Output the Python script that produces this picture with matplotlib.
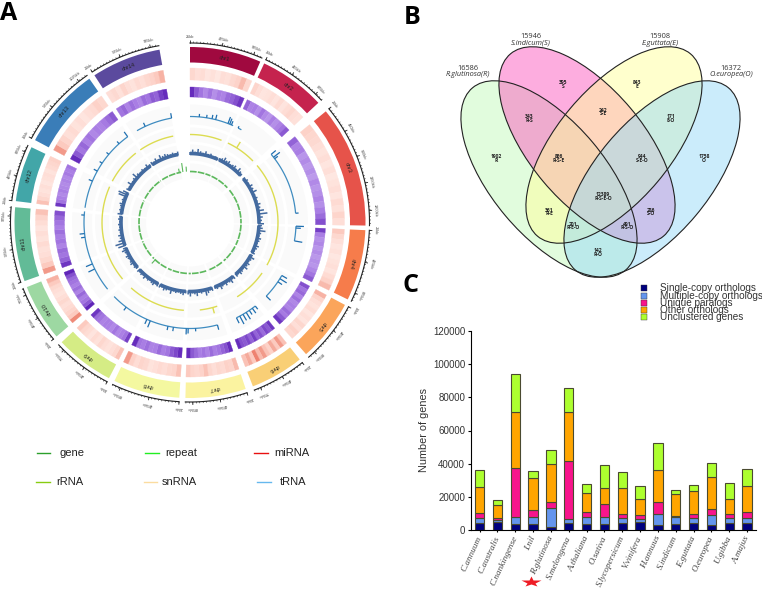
import numpy as np
import matplotlib
matplotlib.use('Agg')
import matplotlib.pyplot as plt
from matplotlib.colors import LinearSegmentedColormap
from matplotlib.markers import MarkerStyle
from matplotlib.patches import Ellipse
from matplotlib.transforms import Affine2D

W, H = 762, 591

# ---- panel A: circos data (angles are degrees clockwise from the top)
CHR_NAMES = ['chr1', 'chr2', 'chr3', 'chr4', 'chr5', 'chr6', 'chr7', 'chr8', 'chr9',
             'chr10', 'chr11', 'chr12', 'chr13', 'chr14']
CHR_START = [0, 25, 50.7, 92.5, 118, 141.3, 161.5, 183.5, 207.5, 229.5, 250.5, 277, 298, 327]
CHR_END = [23.6, 47, 91, 116, 138.6, 159, 181.5, 205.5, 227, 248.4, 275, 295.4, 325, 350]
CHR_COLORS = ['#a0093f', '#c5234e', '#e6534a', '#f67c4b', '#fba55b', '#f9cf76', '#fbf3a0',
              '#f4f8a0', '#d5ec85', '#9dd8a2', '#62bb97', '#42a6a8', '#3a7db8', '#5b4a9e']
TICK_LABELS = [['25kb', '475kb', '925kb'], ['25kb', '465kb', '875kb'], ['25kb', '450kb', '900kb', '1350kb', '1800kb'],
               ['25kb', '425kb', '825kb'], ['25kb', '425kb', '825kb'], ['25kb', '425kb', '775kb'],
               ['25kb', '425kb', '825kb'], ['25kb', '425kb', '825kb'], ['25kb', '425kb', '775kb'],
               ['25kb', '425kb', '775kb'], ['25kb', '525kb', '975kb'], ['25kb', '425kb', '825kb'],
               ['25kb', '525kb', '1025kb'], ['25kb', '525kb', '925kb']]

RED_HEAT = [
    [.40, .28, .32, .18, .25, .15, .30, .25, .38, .48, .65, .40],
    [.45, .30, .18, .22, .30, .20, .35, .20, .32, .42, .30, .25],
    [.50, .42, .38, .30, .22, .30, .18, .28, .15, .22, .30, .18, .35, .25, .45, .30],
    [.55, .40, .28, .18, .25, .15, .22, .28, .20, .35, .50, .65],
    [.70, .45, .30, .22, .32, .18, .28, .20, .42, .30, .50, .40],
    [.60, .85, .55, .75, .50, .60, .85, .65, 1.0, .55, .75, .60],
    [.65, .45, .50, .35, .40, .30, .42, .60, .48, .38, .45, .55],
    [.60, .45, .40, .30, .36, .28, .22, .38, .45, .32, .50, .85],
    [.60, .40, .30, .22, .30, .42, .25, .35, .20, .32, .42, .55],
    [.95, .55, .45, .35, .28, .40, .30, .22, .30, .40, .55, .70],
    [.85, .55, .40, .30, .25, .35, .22, .30, .20, .32, .45, .60],
    [.60, .42, .30, .22, .28, .18, .25, .30, .22, .35, .42, .50],
    [.85, .55, .45, .28, .35, .22, .30, .18, .28, .35, .50, .40],
    [.30, .38, .25, .45, .30, .22, .35, .28, .40, .48, .55, .70],
]
PURPLE_HEAT = [
    [.95, .70, .55, .40, .55, .35, .50, .45, .60, .65, .75, .90],
    [.65, .45, .50, .35, .55, .40, .30, .50, .35, .45, .55, .70],
    [.65, .45, .50, .30, .38, .28, .35, .25, .40, .30, .35, .45, .35, .50, .60, .75],
    [.85, .50, .35, .42, .30, .38, .28, .35, .30, .42, .55, .70],
    [.75, .55, .62, .45, .58, .42, .50, .45, .60, .52, .70, .90],
    [.90, .70, .80, .60, .75, .65, .85, .65, .80, .70, .75, .95],
    [.95, .75, .65, .55, .50, .60, .45, .55, .50, .60, .70, .95],
    [.95, .80, .70, .55, .50, .60, .48, .45, .58, .50, .55, .95],
    [.85, .55, .48, .42, .55, .40, .48, .50, .45, .55, .60, .90],
    [1.0, .70, .55, .50, .62, .45, .58, .48, .55, .60, .75, 1.0],
    [.90, .65, .55, .60, .45, .55, .50, .58, .48, .55, .62, .75],
    [.90, .55, .48, .40, .50, .42, .38, .46, .40, .52, .48, .55],
    [.95, .70, .55, .62, .48, .55, .42, .50, .45, .52, .60, .70],
    [.55, .62, .45, .58, .50, .42, .60, .55, .70, .65, .85, .95],
]

TRNA_SEG_START = [0, 27, 50, 92, 120, 142, 165, 231, 278, 330]
TRNA_SEG_END = [24, 29, 85, 100, 134, 154, 225.7, 276, 324, 350]
TRNA_SPIKE_POS = [5, 9, 12, 14, 21, 22, 23, 27, 50, 52, 53, 85, 92, 93, 100, 120, 122, 124, 134,
                  142, 144, 146, 148, 150, 152, 154, 165, 177, 181, 182, 189, 192, 202, 204, 217,
                  244, 247, 262, 264, 274, 293, 299, 304, 310, 318, 324, 335, 350]
TRNA_SPIKE_H = [3, 3, 4, 5, 7, 6, 4, 2, 6, 8, 4, 3, 8, 5, 8, 6, 8, 5, 6,
                4, 6, 5, 8, 7, 9, 6, 5, 3, 5, 6, 4, 4, 7, 5, 4,
                7, 7, 4, 5, 3, 4, 4, 3, 3, 3, 6, 4, 5]

SNRNA_SEG_START = [0, 25.5, 49.6, 125, 162, 184, 230, 298, 325.6]
SNRNA_SEG_END = [21, 45.7, 119, 147.6, 173.6, 222, 294, 322, 349]
SNRNA_SPIKE_POS = [32, 165]
SNRNA_SPIKE_H = [7, 6]

# height of the repeat track above its baseline, per chromosome
REPEAT_WIGGLE = [
    [2, 4, 2, 5, 3, 2, 4, 2, 3, 1, 2, 1],
    [2, 3, 5, 3, 4, 2, 3, 4, 2, 5, 3, 2],
    [2, 3, 2, 4, 3, 5, 2, 3, 2, 4, 3, 6, 9, 4, 3, 5],
    [3, 4, 7, 3, 2, 4, 3, 2, 4, 3, 2, 3],
    [2, 5, 3, 2, 4, 3, 5, 2, 3, 4, 2, 3],
    [3, 2, 5, 3, 2, 4, 2, 3, 5, 2, 3, 2],
    [3, 2, 4, 6, 2, 3, 2, 5, 3, 2, 5, 3],
    [2, 4, 3, 2, 3, 2, 5, 2, 3, 4, 2, 3],
    [3, 2, 4, 3, 2, 3, 2, 4, 2, 3, 2, 3],
    [2, 3, 2, 4, 3, 2, 3, 4, 2, 3, 5, 3],
    [7, 9, 5, 3, 4, 2, 3, 2, 3, 2, 3, 2],
    [4, 2, 3, 2, 3, 4, 2, 3, 2, 8, 9, 5],
    [3, 2, 5, 2, 3, 6, 3, 2, 3, 2, 4, 2],
    [3, 2, 4, 2, 5, 3, 4, 3, 2, 3, 2, 3],
]
GENE_SPIKE_POS = [223, 348, 352, 356]
GENE_SPIKE_H = [5, 4, 9, 5]

# ---- panel A legend
LEGEND_A_NAMES = ['gene', 'repeat', 'miRNA', 'rRNA', 'snRNA', 'tRNA']
LEGEND_A_COLORS = ['#2ca02c', '#22ee22', '#e81010', '#88cc11', '#fbdca0', '#66b8ee']

# ---- panel B: venn data
VENN_TOTALS = ['16586', '15946', '15908', '16372']
VENN_SPECIES = ['R.glutinosa(R)', 'S.indicum(S)', 'E.guttata(E)', 'O.europea(O)']
VENN_COLORS = ['#c4fbbc', '#fc5cc0', '#ffff9c', '#98daf8']
VENN_COUNTS = ['395', '843', '343', '242', '171', '1902', '866', '944', '1758', '12389',
               '361', '286', '201', '491', '142']
VENN_SETS = ['S', 'E', 'R-S', 'S-E', 'E-O', 'R', 'R-S-E', 'S-E-O', 'O', 'R-S-E-O',
             'R-E', 'S-O', 'R-E-O', 'R-S-O', 'R-O']

# ---- panel C: stacked gene counts
SPECIES = ['C.annuum', 'C.australis', 'C.nankingense', 'I.nil', 'R.glutinosa', 'S.melongena',
           'A.thaliana', 'O.sativa', 'S.lycopersicum', 'V.vinifera', 'H.annuus', 'S.indicum',
           'E.guttata', 'O.europea', 'U.gibba', 'A.majus']
SINGLE_COPY = [4200, 4800, 3800, 3500, 1800, 4400, 3700, 3900, 4000, 4600, 2800, 3600, 4200, 3100, 4100, 4000]
MULTI_COPY = [2800, 1200, 4200, 4500, 11500, 2400, 4000, 3800, 3300, 1900, 6700, 4100, 2800, 6100, 2900, 3300]
UNIQUE_PARALOGS = [3200, 1400, 29500, 4000, 3700, 34900, 3100, 7900, 2200, 2400, 7200, 600, 2500, 3600, 2600, 3600]
OTHER_ORTHOLOGS = [15800, 7600, 33500, 19300, 22700, 29300, 11700, 9900, 15800, 9900, 19500, 13500, 14200, 18900, 9300, 15500]
UNCLUSTERED = [10000, 3300, 23000, 4000, 8800, 14500, 5000, 13500, 9500, 7500, 16100, 2400, 3500, 8500, 9600, 10600]
STACK_NAMES = ['Single-copy orthologs', 'Multiple-copy orthologs', 'Unique paralogs', 'Other orthologs',
               'Unclustered genes']
STACK_COLORS = ['#00007e', '#6495ed', '#f8148c', '#ffa500', '#adff2f']
Y_TICKS = [0, 20000, 40000, 60000, 80000, 100000, 120000]


def arc(start, end):
    return np.radians(np.linspace(start, end, max(int(end - start) * 2, 4)))


def draw_heat_ring(ax, values, r_in, r_out, cmap):
    for start, end, vals in zip(CHR_START, CHR_END, values):
        edges = np.linspace(start, end, len(vals) + 1)
        colors = cmap(np.array(vals))
        # thin edge in the cell colour hides the seams between cells
        ax.bar(np.radians(edges[:-1]), r_out - r_in, width=np.radians(edges[1:] - edges[:-1]), bottom=r_in,
               align='edge', color=colors, edgecolor=colors, linewidth=0.25)


def draw_track_background(ax, r_in, r_out):
    for start, end in zip(CHR_START, CHR_END):
        ax.bar(np.radians(start), r_out - r_in, width=np.radians(end - start), bottom=r_in,
               align='edge', color='#fafafa', linewidth=0)


def draw_segments(ax, starts, ends, radius, color, lw, **kw):
    for start, end in zip(starts, ends):
        t = arc(start, end)
        ax.plot(t, np.full_like(t, radius), color=color, lw=lw, solid_capstyle='butt', **kw)


def draw_circos(ax):
    ax.set_theta_zero_location('N')
    ax.set_theta_direction(-1)
    ax.set_ylim(0, 190)
    ax.axis('off')

    # outer ideogram and its labels
    for i, name in enumerate(CHR_NAMES):
        start, end = CHR_START[i], CHR_END[i]
        ax.bar(np.radians(start), 15.5, width=np.radians(end - start), bottom=160, align='edge',
               color=CHR_COLORS[i], linewidth=0)
        mid = (start + end) / 2
        ax.text(np.radians(mid), 167.5, name, rotation=-mid, rotation_mode='anchor', ha='center', va='center',
                fontsize=4, color='#222222', family='Liberation Sans')

        t = arc(start, end)
        ax.plot(t, np.full_like(t, 179.5), color='#222222', lw=0.8)
        minor = np.radians(np.arange(start, end + 0.01, 1.1))
        ax.vlines(minor, 179.5, 181, color='#222222', lw=0.4)
        labels = TICK_LABELS[i]
        for k, lab in enumerate(labels):
            a = start + (end - start) * 0.88 * k / (len(labels) - 1)
            ax.vlines(np.radians(a), 179.5, 182.5, color='#222222', lw=0.6)
            ax.text(np.radians(a), 186, lab, rotation=-a, rotation_mode='anchor', ha='center', va='center',
                    fontsize=2.8, color='#444444', family='Liberation Sans')

    red = LinearSegmentedColormap.from_list('red_heat', ['#fff0ec', '#fdd2c8', '#ee8270'])
    purple = LinearSegmentedColormap.from_list('purple_heat', ['#cfb6f2', '#a97ee4', '#5f24b8'])
    draw_heat_ring(ax, RED_HEAT, 142.5, 154.5, red)
    draw_heat_ring(ax, PURPLE_HEAT, 125.5, 135.5, purple)

    draw_track_background(ax, 98, 118)
    draw_track_background(ax, 81, 95)
    draw_track_background(ax, 62, 78)
    draw_track_background(ax, 44, 59)

    # tRNA
    draw_segments(ax, TRNA_SEG_START, TRNA_SEG_END, 106, '#3f8cc0', 0.9)
    ax.vlines(np.radians(TRNA_SPIKE_POS), 106, 106 + np.array(TRNA_SPIKE_H), color='#1f6fb0', lw=0.9)

    # snRNA
    draw_segments(ax, SNRNA_SEG_START, SNRNA_SEG_END, 88, '#dcdc50', 1.0)
    ax.vlines(np.radians(SNRNA_SPIKE_POS), 88, 88 + np.array(SNRNA_SPIKE_H), color='#dcdc50', lw=1.0)

    # repeat
    draw_segments(ax, CHR_START, CHR_END, 69, '#436a9f', 2.6)
    for start, end, vals in zip(CHR_START, CHR_END, REPEAT_WIGGLE):
        pos = np.linspace(start, end, len(vals))
        ax.vlines(np.radians(pos), 68, 69 + np.array(vals), color='#436a9f', lw=1.1)

    # gene
    draw_segments(ax, CHR_START, CHR_END, 51, '#5cb85c', 1.2, linestyle=(0, (4, 0.7)))
    ax.vlines(np.radians(GENE_SPIKE_POS), 51, 51 + np.array(GENE_SPIKE_H), color='#5cb85c', lw=0.8)


def draw_legend_a(ax):
    line_x = [(37, 50), (145, 159), (254, 268), (36, 50), (144, 157), (257, 271)]
    text_x = [72, 181, 292, 70, 179, 293]
    rows = [453, 453, 453, 482, 482, 482]
    for name, color, (x0, x1), tx, y in zip(LEGEND_A_NAMES, LEGEND_A_COLORS, line_x, text_x, rows):
        ax.plot([x0, x1], [y, y], color=color, lw=1.0)
        ax.text(tx, y, name, ha='center', va='center', fontsize=8, color='#222222', family='Liberation Sans')


def draw_venn(ax):
    centers = [(549, 179), (587, 145), (614, 145), (652, 179)]
    angles = [50, 50, -50, -50]
    for (cx, cy), angle, color in zip(centers, angles, VENN_COLORS):
        ax.add_patch(Ellipse((cx, cy), 238, 114, angle=angle, facecolor=color, alpha=0.5, edgecolor='none'))
    for (cx, cy), angle in zip(centers, angles):
        ax.add_patch(Ellipse((cx, cy), 238, 114, angle=angle, fill=False, edgecolor='#222222', lw=0.8))

    title_x = [468, 531, 660, 731]
    title_y = [68.5, 37, 37, 68.5]
    for total, species, x, y, in zip(VENN_TOTALS, VENN_SPECIES, title_x, title_y):
        ax.text(x, y, total, ha='center', va='center', fontsize=5.3, color='#333333', family='Open Sans')
        ax.text(x, y + 6.5, species, ha='center', va='center', fontsize=5.3, style='italic',
                color='#333333', family='Open Sans')

    count_x = [563, 637, 529, 603, 671, 496, 559, 642, 704, 603, 549, 651, 573, 627, 598]
    count_y = [83, 83, 117, 110, 117, 157, 157, 157, 157, 195, 210, 210, 224, 224, 251]
    for count, sets, x, y in zip(VENN_COUNTS, VENN_SETS, count_x, count_y):
        ax.text(x, y, count, ha='center', va='center', fontsize=3.6, fontweight='bold', color='#222222', family='Open Sans')
        ax.text(x, y + 3.8, sets, ha='center', va='center', fontsize=3.6, fontweight='bold', color='#222222', family='Open Sans')


def draw_legend_c(ax):
    rows = [288.3, 295.7, 302.7, 310, 317]
    for name, color, y in zip(STACK_NAMES, STACK_COLORS, rows):
        ax.plot([644.3], [y], marker='s', ms=4, color=color, mec='#333333', mew=0.3, ls='none')
        ax.text(660, y, name, ha='left', va='center', fontsize=7.2, color='#333333', family='Liberation Sans')


def draw_bars(ax):
    x = np.arange(len(SPECIES))
    bottom = np.zeros(len(SPECIES))
    for vals, color in zip([SINGLE_COPY, MULTI_COPY, UNIQUE_PARALOGS, OTHER_ORTHOLOGS, UNCLUSTERED], STACK_COLORS):
        ax.bar(x, vals, 0.52, bottom=bottom, color=color, edgecolor='#4a4a30', linewidth=0.8)
        bottom += np.array(vals)

    ax.set_xlim(-0.5, 15.5)
    ax.set_ylim(0, 120000)
    ax.set_yticks(Y_TICKS)
    ax.set_xticks(x)
    ax.set_xticklabels(SPECIES, rotation=65, ha='right', va='center', rotation_mode='anchor',
                       fontsize=6.6, style='italic', family='Liberation Serif', color='#444444')
    ax.tick_params(axis='x', length=1.5, pad=3, width=0.8)
    ax.tick_params(axis='y', length=2, pad=2, width=0.8, labelsize=7, labelcolor='#333333')
    for lab in ax.get_yticklabels():
        lab.set_family('Liberation Sans')
    ax.set_ylabel('Number of genes', fontsize=7.8, color='#333333', family='Liberation Sans', labelpad=3)
    ax.spines['top'].set_visible(False)
    ax.spines['right'].set_visible(False)


def main():
    fig = plt.figure(figsize=(W / 100, H / 100), dpi=100)

    ax_circ = fig.add_axes([0, (H - 412.5) / H, 380 / W, 380 / H], projection='polar')
    draw_circos(ax_circ)

    ax_bar = fig.add_axes([470.7 / W, (H - 530) / H, (756 - 470.7) / W, 199 / H])
    draw_bars(ax_bar)

    # overlay in pixel coordinates for the venn and the hand placed legends
    ax_pix = fig.add_axes([0, 0, 1, 1], facecolor='none')
    ax_pix.set_xlim(0, W)
    ax_pix.set_ylim(H, 0)
    ax_pix.axis('off')
    draw_venn(ax_pix)
    draw_legend_a(ax_pix)
    draw_legend_c(ax_pix)

    star = MarkerStyle('*', transform=Affine2D().scale(1.5, 0.8))
    ax_pix.plot([530.7], [582], marker=star, ms=10, color='#ee1c25', mec='none', ls='none')

    for letter, x, y in [('A', 0, 14), ('B', 404, 18), ('C', 402, 286)]:
        ax_pix.text(x, y, letter, ha='left', va='center', fontsize=18, fontweight='bold', family='Open Sans')

    fig.savefig('out.png', dpi=100)
    plt.close(fig)


if __name__ == "__main__":
    main()
